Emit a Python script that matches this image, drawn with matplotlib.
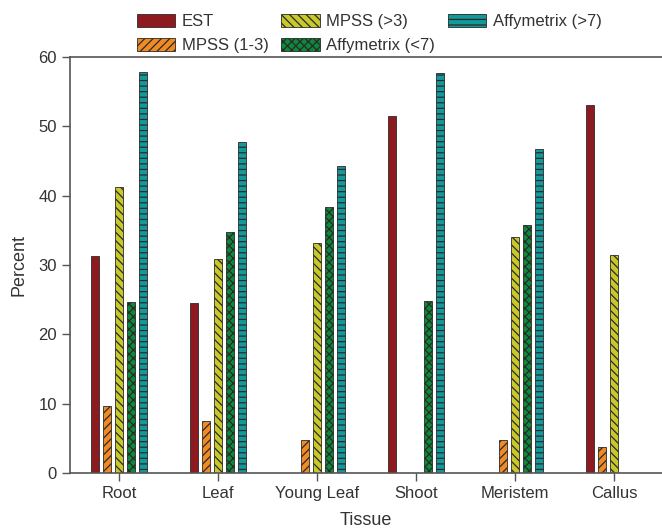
import matplotlib
matplotlib.use("Agg")
import matplotlib.pyplot as plt
import numpy as np

plt.rcParams['font.family'] = ['Liberation Sans', 'DejaVu Sans']
plt.rcParams['hatch.linewidth'] = 0.9

tissues = ["Root", "Leaf", "Young Leaf", "Shoot", "Meristem", "Callus"]
series_names = ["EST", "MPSS (1-3)", "MPSS (>3)", "Affymetrix (<7)", "Affymetrix (>7)"]
est = [31.3, 24.5, 0, 51.5, 0, 53.1]
mpss_1_3 = [9.6, 7.5, 4.7, 0, 4.8, 3.8]
mpss_gt3 = [41.2, 30.9, 33.2, 0, 34.0, 31.4]
affy_lt7 = [24.6, 34.7, 38.3, 24.8, 35.8, 0]
affy_gt7 = [57.9, 47.8, 44.3, 57.7, 46.8, 0]

series = [est, mpss_1_3, mpss_gt3, affy_lt7, affy_gt7]
colors = ["#8c1a1f", "#f08a24", "#c8c82a", "#0b8a3a", "#14999b"]
hatches = [None, "////", "\\\\\\\\", "xxxx", "---"]

fig = plt.figure(figsize=(6.62, 5.30), dpi=100)
ax = fig.add_axes([70/662, 57/530, 592/662, 416/530])

x = np.arange(len(tissues))
step = 0.121
width = 0.076
handles = []
for i, (vals, c, h, name) in enumerate(zip(series, colors, hatches, series_names)):
    xs = x + (i - 2) * step
    v = np.array(vals, dtype=float)
    mask = v > 0
    b = ax.bar(xs[mask], v[mask], width=width, color=c, edgecolor="#2a2a2a",
               linewidth=0.6, hatch=h, label=name)
    handles.append(b)

ax.set_xlim(-0.495, 5.485)
ax.set_ylim(0, 60)
ax.set_yticks(range(0, 61, 10))
ax.set_xticks(x)
ax.set_xticklabels(tissues)
for s in ["top", "left", "bottom"]:
    ax.spines[s].set_color("#555555")
    ax.spines[s].set_linewidth(1.2)
ax.spines["right"].set_visible(False)
ax.tick_params(axis="both", direction="out", length=6, width=1, color="#555555",
               labelsize=12, labelcolor="#333333")
ax.set_xlabel("Tissue", fontsize=13, color="#333333", labelpad=8)
ax.set_ylabel("Percent", fontsize=13, color="#333333", labelpad=8)

leg = fig.legend(handles=handles, labels=series_names, ncol=3, frameon=False,
                 loc="upper left", bbox_to_anchor=(122/662, 1.002), fontsize=12,
                 handlelength=2.3, handleheight=0.85, columnspacing=0.75,
                 handletextpad=0.4, labelspacing=0.5, labelcolor="#333333")

fig.savefig("out.png", dpi=100)
